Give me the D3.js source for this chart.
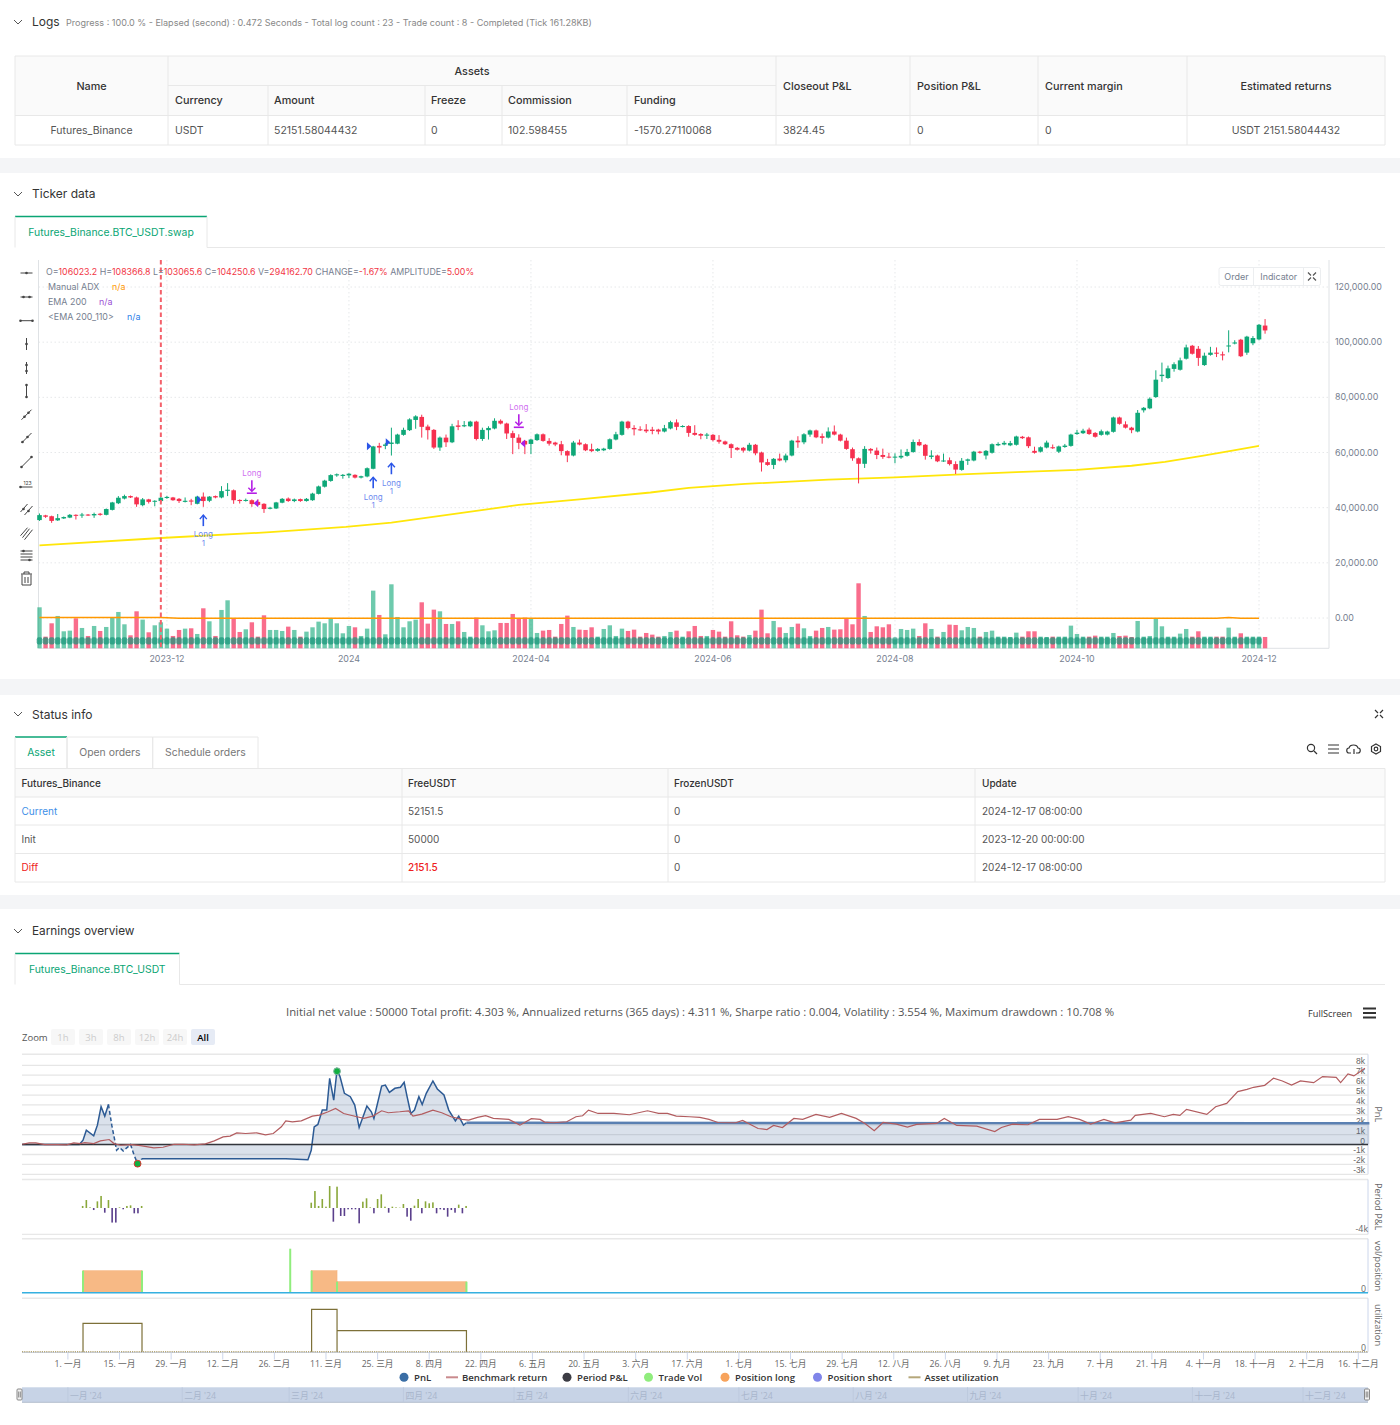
<!DOCTYPE html>
<html>
<head>
<meta charset="utf-8">
<title>Backtest</title>
<script src="https://d3js.org/d3.v7.min.js"></script>
<style>
    html, body { margin: 0; padding: 0; background: #fff; }
    svg { display: block; font-family: Inter, "Noto Sans CJK SC", sans-serif; }
    .hc text { font-family: "Open Sans", "Noto Sans CJK SC", sans-serif; }
    .hc text.pl { font-family: "Liberation Sans", sans-serif; }
</style>
</head>
<body>
<svg id="page" width="1400" height="1425"></svg>
<script>
// candles, prices in thousands USDT
var opens = [35.5,37.2,36.9,35.4,36.1,36.4,37.4,37.2,37.5,37.2,
    37.8,37.4,39.2,41.6,43.3,44.2,43.7,40.9,43,42.2,
    42.4,43.5,43.7,43.2,42.1,42.6,41.4,44,42.5,44.2,
    43.7,46.1,46.3,42.8,42.5,42.7,42.1,41.4,39.6,39.7,
    41.8,43.3,42.4,43.1,42.4,42.7,45,47.6,49.7,51.7,
    51.5,51.7,51.9,50.9,51.3,54.1,62.4,62.4,63.1,63.2,
    66.4,68.1,71.8,72.9,69.4,68.2,61.8,65.4,63.7,69.8,
    69.5,69.5,71.2,64.9,68.1,68.7,71.5,70.5,67,65.4,
    64.2,63.1,64.5,66.6,64.2,63.6,63,60.5,58.9,63.6,
    63,61.2,60.6,60.8,61.3,64.7,66.4,71.2,68.9,68.4,
    68.3,68.3,68.3,67.6,68.7,70.9,69.3,69.6,67.1,66.7,
    66.1,66.4,64.6,64,63,61.7,61.7,60.7,62.8,60,
    56.5,55.5,57.8,57.2,58.9,64.3,63.7,66.5,68,65.9,
    65.4,67.6,66.5,64.3,61.2,57.9,55.9,61.3,60.7,59.1,
    58.5,58.2,58.2,58.8,60.2,63.8,62.8,58.4,58.9,56.8,
    57.2,55.8,53.7,57,57.1,60.3,58.9,59.9,62.6,62.9,
    62.6,62.8,65.7,65.5,60.6,60.3,61.8,61.9,60.3,62,
    62.4,66.7,67,68.3,67.1,66.4,66.5,67.5,72.7,70.2,
    69,67.6,75.3,76,80.1,87.7,87,90.3,90,94,
    98.7,97.6,91.7,95.4,96.2,95.6,98.5,99.5,100.9,96.2,
    99.6,101,106.02];
var closes = [37.3,36.7,35.2,36.2,36.6,37.4,37.1,37.5,37.2,37.7,
    37.4,39.5,41.9,43.6,44.2,43.7,41.2,43,42.1,42.5,
    43.6,43.9,42.7,42.4,42.5,42.2,44,42.4,44,43.7,
    46,46.5,42.7,42.4,42.8,41.3,41,39.5,40,41.9,
    43.2,42.4,43,42.4,43.2,45.1,47.7,49.8,51.8,52.1,
    51.9,52.3,50.9,51.4,54.3,62.2,61.8,62.9,63.6,66.5,
    68.2,72,73.1,69.3,68.1,61.8,65.4,63.7,69.5,69.3,
    69.9,71.2,64.9,68.2,68.9,71.5,70.5,66.9,65.3,63.5,
    62.9,64.7,66.6,64.2,63.2,62.9,60.5,58.9,63.6,62.9,
    60.8,60.5,61.3,61.4,64.8,66.6,71.2,68.9,68.4,68.1,
    67.7,67.8,67.6,68.8,71,69.3,69.6,67.1,66.4,66.1,
    66.5,64.5,63.9,63,61.6,61,60.7,62.8,59.7,56.4,
    55.5,57.7,57.1,58.9,64.3,63.7,66.6,68,65.5,65.3,
    67.6,66.5,64.3,61.3,57.9,55.9,61.3,60.7,59.1,58.4,
    58.2,58.5,58.8,60.2,63.8,62.6,58.8,58.9,56.8,57.1,
    55.8,53.8,57,57.5,60.3,59.9,60.6,63,63.1,63.5,
    63.4,65.8,65.2,62.3,59.9,61.9,63.6,61.6,62.2,62.5,
    66.5,67.2,67.9,66.7,65.7,67.7,67.6,72.7,70.4,69,
    68.1,74.4,76.2,79.5,86.4,88.2,90.5,92,93.4,98.1,
    95.8,94.3,95.1,96.2,95.8,95.2,98.8,99.9,94.9,102,
    101.5,106.3,104.25];
var highs = [37.9,37.4,37.1,37.7,36.8,37.7,37.6,38.1,37.7,38.2,
    38.1,39.7,42.1,44.2,44.7,44.4,44,43.5,43.2,42.7,
    44.1,44.3,43.9,43.5,43.7,43.2,44.3,45.5,44.2,44.4,
    47.8,48.9,46.6,43,43.3,43,43,41.6,40.3,42.1,
    43.5,43.7,43.3,43.3,43.5,45.4,48,50.1,52.1,52.4,
    52.2,52.5,52.1,51.6,54.6,62.4,63.5,63.5,69,66.8,
    69,72.4,73.5,73.7,70.1,68.5,65.8,66.5,70.4,71.7,
    71.4,71.5,71.5,69,69.5,72.4,72,70.8,67.9,66.6,
    64.5,65,66.9,66.9,65.2,63.9,64.2,60.8,64.2,64.7,
    63.3,63.2,61.6,61.7,65.1,67.5,71.5,71.5,69.9,69.5,
    70.3,69.3,68.6,70,71.5,72,69.9,69.9,69.9,67,
    67.1,66.7,66.3,64.3,63.3,62,62,63.5,63.1,60.3,
    57.7,58,59.6,59.6,64.6,65.9,67,68.3,68.3,66.9,
    69.1,69.8,66.8,65.4,61.8,58.2,62.3,61.6,61.8,61.4,
    59.9,59.7,61.1,61.3,64.7,64.8,63.1,60.8,59.2,59.6,
    58.2,56.8,58,57.8,60.6,60.6,60.9,63.3,63.7,64.2,
    64.2,66.1,66,65.8,62.1,62.2,64.3,62.9,62.5,63.1,
    66.8,68.2,68.6,69,67.4,68.3,67.9,73,73,71.3,
    69.3,75.4,76.5,80,89.8,92.6,91.5,92.7,94.4,99.1,
    99,98.6,96.2,98.3,98.1,96.6,104.3,100.7,101.2,102.3,
    102.2,106.6,108.37];
var lows = [35.2,36.3,34.5,35.2,35.9,36.2,35.7,36.3,37,36.3,
    37.1,37.2,39,41.3,43,43.5,40.3,40.5,41.5,40.5,
    41.9,43.2,42.5,41.7,41.9,40.9,41.2,40.3,42,43.4,
    43.4,44.2,41.4,41.5,42.2,40.3,40.6,38.1,39.4,39.5,
    41.6,42.1,42,42.1,42.2,42.5,44.8,47.3,49.4,51.2,
    50.5,50.7,50.6,50.6,51,53.9,59.7,61.2,58.9,63,
    66.1,67.8,68.6,65.4,64.7,61.3,60.6,62,63.4,68.1,
    69.2,69.2,64.4,64.2,64.7,68.4,70.2,64.9,59.4,61.2,
    59.4,59.4,64.2,63.9,62.5,62.3,59,56.5,58.6,62.6,
    60.5,60.2,60.3,60.5,61,64.4,66.1,68.4,66.2,67.8,
    67.1,66.6,66.6,67.3,68.4,68.1,69.1,65.7,66.1,64.8,
    64.9,64,63.2,62.7,58,60.7,60,60.4,59,53.1,
    55.2,54,56.8,56.4,58.6,61.7,63,65.7,65.2,63.2,
    65.1,66.2,64,61,57,48.8,54.4,59.6,57.6,57.7,
    57.9,56.1,57.7,58.5,59.9,62.3,57.4,57.6,56.5,56.6,
    55.3,52.2,53.4,55.5,56.8,59.6,57.5,59.6,62.3,62.6,
    62.3,62.5,64.9,61.6,59.6,60,61.5,61.3,59.8,61.7,
    62.1,66.4,66.7,66.4,65.4,66.1,66.2,67.2,70.1,68.7,
    67,67.3,74.5,75.7,79.8,85.6,86.7,89.3,89.7,93.7,
    95.5,91.4,91.4,95.1,94.6,93.4,96.3,99.2,94.6,95.4,
    98.9,100.7,103.07];
// volume, read as bar height (lots of about 8.65k, last bar = 294162.7)
var volumes = [123,35,75,97,51,53,90,61,37,67,52,64,92,109,72,39,111,86,48,69,78,59,37,55,59,60,43,120,81,37,115,144,89,49,57,78,35,99,55,55,52,65,55,35,50,63,80,75,89,75,
    45,67,63,37,59,173,100,42,192,94,63,81,86,138,74,116,111,73,73,81,49,35,92,69,51,54,76,76,103,90,92,88,46,53,55,35,73,98,64,56,55,63,35,58,69,37,59,52,56,35,
    46,41,35,37,49,53,35,51,67,37,37,55,50,35,81,39,35,40,53,116,45,82,63,46,64,74,60,37,53,61,64,56,57,89,72,195,97,49,66,63,72,27,58,55,59,37,75,58,35,49,71,
    70,54,64,61,35,49,53,35,35,34,47,35,51,51,35,34,35,35,35,68,43,35,35,38,35,35,46,37,38,34,82,35,37,88,66,35,35,44,58,35,51,35,35,35,35,62,35,45,35,35,35,34];
var emaIdx = [0,20,38,50.5,58,69,79,89,100.7,107,116.3,130,141,151,161,171,180,185.5,191.6,196.6,201];
var emaVals = [26.3,29,31.1,33,34.6,37.9,41,43,45.5,47.2,48.6,50.2,51,52,52.9,53.7,55.2,56.6,58.8,60.7,62.4];
var adxIdx = [0,20,23,194,196,198,201];
var adxVals = [0.15,0.15,-0.1,-0.1,0.2,-0.1,-0.1];
var priceTicks = [0,20,40,60,80,100,120];
var candleTickIdx = [21,51,81,111,141,171,201];
var candleTickLabels = ["2023-12","2024","2024-04","2024-06","2024-08","2024-10","2024-12"];
// arrows on the chart: [bar, price]
var longIn = [[27,37.3],[55,51],[58,56.1]];
var longOut = [[35,45.6],[79,69.5]];
var triIn = [[26.3,42.9],[54.3,62.3],[57.4,63.7]];
var triOut = [[35.7,41.6],[79.7,63.3]];

// earnings, x in days after 2024-01-01, y in thousands
var pnlDays = [-12.4,-0.3,3.1,4.1,5,7,8,9,10,11,11.9,12.7,13.2,14,15,17,17.9,18.9,20.1,59.1,65.1,66,66.8,67.8,69,70.2,71,72.1,73,73.8,75,76.6,77.8,79,81.1,82.3,83,85.1,86.1,87.2,88.7,90.2,91.2,92,93,94,95.2,96.1,97.2,99,100.2,102,103.3,105.1,106,107.3,108.1,353];
var pnlVals = [0,0,0,0.44,1.45,0.88,1.96,3.82,2.87,4.05,1.96,0.44,-0.57,-0.3,-0.64,0,-1.01,-1.93,-1.42,-1.42,-1.52,-0.57,1.79,2.03,3.48,3.48,6.69,4.49,7.53,6.86,5.17,4.83,3.99,1.72,3.89,3.31,2.64,5.91,6.01,5.27,5.68,5.78,6.28,4.83,3.14,3.48,4.83,4.05,5.17,6.42,5.61,5,3.48,2.4,2.87,1.96,2.2,2.15];
var benchDays = [-12.4,-10.5,-8.7,-6.3,-2.7,-0.3,1.6,3.4,4.6,7,8.8,11.2,12.5,14.3,17.3,19.7,23.3,25.8,28.8,31.2,34.3,37.3,39.7,42.1,44,45.8,48.2,51.2,53.6,55.7,57.9,59.1,60.9,63.3,66.3,68.2,70.6,72.6,74.8,78.4,80.3,82.7,85.1,86.9,90,92.4,93.6,96,99,101.4,103.9,106.9,108.7,111.1,113.3,115.4,119.6,122.6,125.7,128.1,129.3,131.7,135.3,137.8,139.6,141.2,143.8,148.1,152.3,157.2,160.2,162.6,165,168.6,
    171.4,173.9,176.3,181.1,183,187.2,189.6,191.4,193.8,196.9,199.3,202.9,206.6,209.8,213.8,216.2,218.7,221.1,224.7,227.7,230.2,235.6,237.7,241.1,246.5,251.4,253.2,256.2,260.4,263.5,268.3,271.3,274.4,277.4,281,284,288.3,289.5,293.7,297.4,299.8,301.6,303.4,308.9,311.3,314.3,317.3,319.8,321.6,324.6,327,329.4,331.9,334.3,337.9,340.3,344,345.2,347.2,348.8,351.8];
var benchVals = [0.03,0.17,0.17,0,0,-0.03,0.17,0.1,0.2,0.1,0.37,0.51,0.1,-0.07,0,-0.1,-0.34,-0.27,0.03,0.03,-0.03,0.07,0.37,0.78,0.85,1.18,1.12,1.18,0.98,1.12,1.79,2.4,2.3,2.4,2.87,2.97,3.31,3.65,3.14,2.81,2.64,2.87,3.41,3.21,3.31,3.41,2.87,3.07,3.48,3.21,2.81,2.54,2.47,2.74,2.91,2.64,2.54,1.96,2.61,2.54,2.27,2.2,2.3,2.81,2.91,3.48,3.14,3.14,3.01,3.41,3.14,3.14,2.87,2.81,
    2.74,2.54,2.23,2.2,2.44,1.62,1.52,1.93,1.72,2.64,2.54,3.04,2.74,3.14,2.64,2.13,1.39,2.23,2.06,1.76,2.03,2.13,2.64,1.93,1.86,1.32,1.72,2.06,2,2.54,2.54,2.81,2.54,2.06,2.54,2.2,2.47,2.94,3.14,2.81,3.04,2.94,3.55,3.04,3.82,4.16,5.34,5.57,5.78,5.98,6.69,6.42,6.01,6.42,6.25,6.86,6.79,6.25,7.13,6.93,7.7];
var pnlTicks = [-3,-2,-1,0,1,2,3,4,5,6,7,8];
var periodDays = d3.range(4,21).concat(d3.range(66,109));
var periodVals = [0.32,1.26,0.1,-0.32,1.05,1.9,-0.74,1.26,-2.3,-2.3,0.1,-0.2,0.32,0.42,-0.84,-0.84,0.32,
    0.84,2.68,0.32,1.42,0.21,3.47,-2.16,3.37,-1.26,-1.26,-0.21,-0.21,-0.21,-2.42,1,1.53,0.1,-0.84,1.42,2.16,0.21,-0.74,0.21,0.1,0.05,0.63,-1.37,-2,0.37,1.42,-0.84,1.05,0.74,0.89,-0.84,-0.21,-0.32,-1.37,-0.32,-0.74,0.53,-0.84,0.32];
// position steps: [from day, to day, level]
var posDays = [[4.1,20.1],[66.1,73],[73,108.1]];
var posLevels = [2,2,1];
var tradeDays = [4.1,20.1,60.3,66.1,73,108.1];
var tradeVols = [2,2,4,2,1,1];
var utilLevels = [28.3,42.3,21];
var monthNames = ["一月","二月","三月","四月","五月","六月","七月","八月","九月","十月","十一月","十二月"];

var svg = d3.select("#page");

function t(parent, x, y, str, o) {
    o = o || {};
    return parent.append("text").attr("x", x).attr("y", y).attr("dy", "0.35em")
        .attr("font-size", o.size || 10.5)
        .attr("font-weight", o.weight || 400)
        .attr("fill", o.fill || "#555")
        .attr("text-anchor", o.anchor || "start")
        .text(str);
}
function line(parent, x1, y1, x2, y2, c, w) {
    return parent.append("line").attr("x1", x1).attr("y1", y1).attr("x2", x2).attr("y2", y2)
        .attr("stroke", c || "#e8e8e8").attr("stroke-width", w || 1);
}
function box(parent, x, y, w, h, c) {
    return parent.append("rect").attr("x", x).attr("y", y).attr("width", w).attr("height", h).attr("fill", c);
}
function chevron(x, y) {
    svg.append("path").attr("d", "M" + (x - 4) + "," + (y - 2) + "L" + x + "," + (y + 2) + "L" + (x + 4) + "," + (y - 2))
        .attr("fill", "none").attr("stroke", "#555").attr("stroke-width", 1);
}
function tabs(y, h, list) {
    list.forEach(function (d, i) {
        line(svg, d.x0, y, d.x1, y, i == 0 ? "#0aa574" : "#e8e8e8", i == 0 ? 1.5 : 1);
        line(svg, d.x0, y, d.x0, y + h);
        line(svg, d.x1, y, d.x1, y + h);
        t(svg, (d.x0 + d.x1) / 2, y + h / 2, d.label, {anchor: "middle", fill: i == 0 ? "#0aa574" : "#777", size: 10.4});
    });
}

// gray bands between the sections
[[158, 15], [679, 16], [895, 14]].forEach(function (d) { box(svg, 0, d[0], 1400, d[1], "#f4f5f7"); });

// ---- Logs ----
chevron(18, 22);
t(svg, 32, 21.5, "Logs", {size: 12, fill: "#333"});
t(svg, 66, 22.5, "Progress : 100.0 % - Elapsed (second) : 0.472  Seconds - Total log count : 23 - Trade count : 8 - Completed (Tick 161.28KB)", {size: 9.05, fill: "#888"});

box(svg, 15, 56, 1370, 60, "#fafafa");
[56, 115.5, 145].forEach(function (y) { line(svg, 15, y, 1385, y); });
line(svg, 168, 85.5, 776, 85.5);
[15, 168, 776, 910, 1038, 1187, 1385].forEach(function (x) { line(svg, x, 56, x, 145); });
[268, 425, 502, 627].forEach(function (x) { line(svg, x, 85.5, x, 145); });
var headStyle = {weight: 500, fill: "#333", size: 10.8};
t(svg, 91.5, 86, "Name", {weight: 500, fill: "#333", size: 10.8, anchor: "middle"});
t(svg, 472, 71, "Assets", {weight: 500, fill: "#333", size: 10.8, anchor: "middle"});
t(svg, 1286, 86, "Estimated returns", {weight: 500, fill: "#333", size: 10.8, anchor: "middle"});
[["Currency", 175], ["Amount", 274], ["Freeze", 431], ["Commission", 508], ["Funding", 634]].forEach(function (d) { t(svg, d[1], 100.7, d[0], headStyle); });
[["Closeout P&L", 783], ["Position P&L", 917], ["Current margin", 1045]].forEach(function (d) { t(svg, d[1], 86, d[0], headStyle); });
t(svg, 91.5, 130.5, "Futures_Binance", {anchor: "middle"});
[["USDT", 175], ["52151.58044432", 274], ["0", 431], ["102.598455", 508], ["-1570.27110068", 634], ["3824.45", 783], ["0", 917], ["0", 1045]].forEach(function (d) { t(svg, d[1], 130.5, d[0]); });
t(svg, 1286, 130.5, "USDT 2151.58044432", {anchor: "middle"});

// ---- Ticker data ----
chevron(18, 194);
t(svg, 32, 194, "Ticker data", {size: 12, fill: "#333"});
tabs(216.5, 31, [{x0: 15, x1: 207, label: "Futures_Binance.BTC_USDT.swap"}]);
line(svg, 207, 247.5, 1385, 247.5);

var chart = svg.append("g");
var x = d3.scaleLinear().domain([0, 201]).range([39.5, 1259]);
var y = d3.scaleLinear().domain([0, 120]).range([618, 287]);
var yVol = d3.scaleLinear().domain([0, 240]).range([648.3, 568.3]);
var plotL = 38.5, plotR = 1329, plotT = 260, plotB = 648.3;

chart.selectAll(".gy").data(priceTicks).enter().append("line")
    .attr("x1", plotL).attr("x2", plotR).attr("y1", function (d) { return y(d); }).attr("y2", function (d) { return y(d); })
    .attr("stroke", "#e6e8ea").attr("stroke-dasharray", "1.5 2.5");
chart.selectAll(".gx").data(candleTickIdx).enter().append("line")
    .attr("y1", plotT).attr("y2", plotB).attr("x1", function (d) { return x(d); }).attr("x2", function (d) { return x(d); })
    .attr("stroke", "#e6e8ea").attr("stroke-dasharray", "1.5 2.5");
line(chart, plotL, plotT, plotL, plotB, "#dfe2e5");
line(chart, plotR, plotT, plotR, plotB, "#dfe2e5");
line(chart, plotL, plotB, plotR, plotB, "#dfe2e5");

chart.selectAll(".py").data(priceTicks).enter().append("text")
    .attr("x", 1335).attr("y", function (d) { return y(d); }).attr("dy", "0.35em")
    .attr("font-size", 8.9).attr("fill", "#76808f")
    .text(function (d) { return d3.format(",.2f")(d * 1000); });
chart.selectAll(".px").data(candleTickIdx).enter().append("text")
    .attr("x", function (d) { return x(d); }).attr("y", 658.5).attr("dy", "0.35em")
    .attr("font-size", 8.9).attr("fill", "#76808f").attr("text-anchor", "middle")
    .text(function (d, i) { return candleTickLabels[i]; });

var idx = d3.range(opens.length);
function isUp(i) { return closes[i] >= opens[i]; }

// volume bars
chart.selectAll(".vol").data(idx).enter().append("rect")
    .attr("x", function (i) { return x(i) - 2.2; }).attr("width", 4.4)
    .attr("y", function (i) { return yVol(volumes[i]); })
    .attr("height", function (i) { return yVol(0) - yVol(volumes[i]); })
    .attr("fill", function (i) { return isUp(i) ? "rgba(14,166,118,0.6)" : "rgba(246,40,85,0.68)"; });
// low teal band over the volume bars
var bandTop = -6.95, bandBottom = -9.6;
chart.selectAll(".band").data(idx.slice(0, 202)).enter().append("rect")
    .attr("x", function (i) { return x(i) - 2.8; }).attr("width", 5.6).attr("rx", 2)
    .attr("y", y(bandTop)).attr("height", y(bandBottom) - y(bandTop))
    .attr("fill", "rgba(25,150,122,0.72)");

// ADX and EMA
var adxLine = d3.line().x(function (d, i) { return x(adxIdx[i]); }).y(function (d) { return y(d); });
chart.append("path").datum(adxVals).attr("d", adxLine).attr("fill", "none").attr("stroke", "#ff9800").attr("stroke-width", 1.5);
var emaLine = d3.line().x(function (d, i) { return x(emaIdx[i]); }).y(function (d) { return y(d); });
chart.append("path").datum(emaVals).attr("d", emaLine).attr("fill", "none").attr("stroke", "#ffe60a").attr("stroke-width", 1.8);

// candles
chart.selectAll(".wick").data(idx).enter().append("line")
    .attr("x1", function (i) { return x(i); }).attr("x2", function (i) { return x(i); })
    .attr("y1", function (i) { return y(highs[i]); }).attr("y2", function (i) { return y(lows[i]); })
    .attr("stroke", function (i) { return isUp(i) ? "#0fa878" : "#f6304f"; });
chart.selectAll(".body").data(idx).enter().append("rect")
    .attr("x", function (i) { return x(i) - 2.3; }).attr("width", 4.6)
    .attr("y", function (i) { return y(Math.max(opens[i], closes[i])); })
    .attr("height", function (i) { return Math.max(1, Math.abs(y(opens[i]) - y(closes[i]))); })
    .attr("fill", function (i) { return isUp(i) ? "#0fa878" : "#f6304f"; });

// red dashed cursor
line(chart, x(20), plotT, x(20), plotB, "#f4606a", 2).attr("stroke-dasharray", "4.5 3");

// trade markers
longIn.forEach(function (d) {
    var px = x(d[0]), py = y(d[1]);
    line(chart, px, py, px, py + 11, "#2a55e8", 1.6);
    chart.append("path").attr("d", "M" + (px - 3.5) + "," + (py + 4) + "L" + px + "," + py + "L" + (px + 3.5) + "," + (py + 4)).attr("fill", "none").attr("stroke", "#2a55e8").attr("stroke-width", 1.4);
    t(chart, px, py + 19.5, "Long", {anchor: "middle", size: 8, fill: "#6d8bef"});
    t(chart, px, py + 28, "1", {anchor: "middle", size: 8, fill: "#6d8bef"});
});
longOut.forEach(function (d) {
    var px = x(d[0]), py = y(d[1]);
    line(chart, px, py - 12, px, py - 1, "#b51fe6", 1.6);
    chart.append("path").attr("d", "M" + (px - 3.5) + "," + (py - 4.5) + "L" + px + "," + (py - 1) + "L" + (px + 3.5) + "," + (py - 4.5)).attr("fill", "none").attr("stroke", "#b51fe6").attr("stroke-width", 1.4);
    line(chart, px - 5, py + 1, px + 5, py + 1, "#b51fe6", 1.6);
    t(chart, px, py - 19, "Long", {anchor: "middle", size: 8, fill: "#d070f0"});
});
chart.selectAll(".tin").data(triIn).enter().append("path")
    .attr("d", function (d) { var a = x(d[0]) - 2, b = y(d[1]); return "M" + a + "," + (b - 4) + "L" + (a + 4.5) + "," + b + "L" + a + "," + (b + 4) + "Z"; })
    .attr("fill", "#2a55e8");
chart.selectAll(".tout").data(triOut).enter().append("path")
    .attr("d", function (d) { var a = x(d[0]) + 2, b = y(d[1]); return "M" + a + "," + (b - 4) + "L" + (a - 4.5) + "," + b + "L" + a + "," + (b + 4) + "Z"; })
    .attr("fill", "#a61fe8");

// header text of the chart
var ohlc = chart.append("text").attr("x", 46).attr("y", 272).attr("dy", "0.35em").attr("font-size", 8.8);
[["O=", "106023.2"], [" H=", "108366.8"], [" L=", "103065.6"], [" C=", "104250.6"], [" V=", "294162.70"], [" CHANGE=", "-1.67%"], [" AMPLITUDE=", "5.00%"]].forEach(function (d) {
    ohlc.append("tspan").attr("fill", "#76808f").text(d[0]);
    ohlc.append("tspan").attr("fill", "#f23645").text(d[1]);
});
[["Manual ADX", 287, 112, "#ff9800"], ["EMA 200", 302, 99, "#9b4fd4"], ["<EMA 200_110>", 317, 127, "#2a7de8"]].forEach(function (d) {
    t(chart, 48, d[1], d[0], {size: 8.9, fill: "#76808f"});
    t(chart, d[2], d[1], "n/a", {size: 8.9, fill: d[3]});
});
chart.append("rect").attr("x", 1219).attr("y", 267.5).attr("width", 101.5).attr("height", 18).attr("rx", 2).attr("fill", "#fff").attr("stroke", "#eceef0");
line(chart, 1253.5, 267.5, 1253.5, 285.5, "#eceef0");
line(chart, 1303.5, 267.5, 1303.5, 285.5, "#eceef0");
t(chart, 1236.5, 276.5, "Order", {anchor: "middle", size: 9, fill: "#76808f"});
t(chart, 1278.7, 276.5, "Indicator", {anchor: "middle", size: 8.9, fill: "#76808f"});
function expandIcon(cx, cy, c) {
    svg.append("path").attr("d", "M" + (cx - 4) + "," + (cy - 4) + "l3,3M" + (cx + 4) + "," + (cy - 4) + "l-3,3M" + (cx - 4) + "," + (cy + 4) + "l3,-3M" + (cx + 4) + "," + (cy + 4) + "l-3,-3")
        .attr("stroke", c).attr("stroke-width", 1.2).attr("fill", "none");
}
expandIcon(1312, 276.5, "#555");

// left drawing toolbar
var toolY = [273, 297, 320.7, 344, 368, 391, 414.7, 438, 462, 485, 509, 532.7, 556];
var tools = svg.append("g").attr("stroke", "#444").attr("stroke-width", 1).attr("fill", "#444");
toolY.forEach(function (ty, i) {
    var cx = 26.5, g = tools.append("g").attr("transform", "translate(" + cx + "," + ty + ")");
    function seg(x1, y1, x2, y2) { g.append("line").attr("x1", x1).attr("y1", y1).attr("x2", x2).attr("y2", y2); }
    function dot(a, b) { g.append("circle").attr("cx", a).attr("cy", b).attr("r", 1.3).attr("stroke", "none"); }
    if (i < 3) { seg(-6, 0, 6, 0); if (i == 0) dot(0, 0); if (i == 1) { dot(-3, 0); dot(3, 0); } if (i == 2) { dot(-6, 0); dot(6, 0); } }
    else if (i < 6) { seg(0, -6, 0, 6); if (i == 3) dot(0, 0); if (i == 4) { dot(0, -3); dot(0, 3); } if (i == 5) { dot(0, -6); dot(0, 6); } }
    else if (i < 9) { seg(-5, 5, 5, -5); if (i == 6) { dot(-2, 2); dot(2, -2); } if (i == 7) { dot(-4, 4); dot(1, -1); } if (i == 8) { dot(-5, 5); dot(5, -5); } }
    else if (i == 9) { seg(-6, 2, 6, 2); dot(-6, 2); g.append("text").attr("x", 1).attr("y", 0).attr("font-size", 5).attr("stroke", "none").attr("text-anchor", "middle").text("123"); }
    else if (i == 10) { seg(-6, 3, 1, -5); seg(-2, 6, 6, -3); dot(-3, 0); dot(2, 2); }
    else if (i == 11) { seg(-6, 3, 1, -5); seg(-4, 5, 3, -4); seg(-2, 7, 6, -3); }
    else { seg(-6, -5, 6, -5); seg(-6, -2, 6, -2); seg(-6, 1, 6, 1); seg(-6, 4, 6, 4); dot(-3, -5); dot(3, 4); }
});
tools.append("path").attr("fill", "none").attr("d", "M21,574H32M24,574V572H29V574M22,574.5V585H31V574.5M25,577V583M28,577V583");

// ---- Status info ----
chevron(18, 714);
t(svg, 32, 715, "Status info", {size: 12, fill: "#333"});
expandIcon(1379, 714, "#333");
tabs(737, 31.5, [{x0: 15, x1: 67, label: "Asset"}, {x0: 67, x1: 152.7, label: "Open orders"}, {x0: 152.7, x1: 258, label: "Schedule orders"}]);
box(svg, 15, 768.5, 1370, 28.5, "#fafafa");
[768.5, 797, 825, 853.5, 882].forEach(function (yy) { line(svg, 15, yy, 1385, yy); });
[15, 402, 668, 975, 1385].forEach(function (xx) { line(svg, xx, 768.5, xx, 882); });
var statusCols = [21.5, 408, 674, 982];
var statusRows = [
    [783, ["Futures_Binance", "FreeUSDT", "FrozenUSDT", "Update"], {weight: 500, fill: "#333"}],
    [811.5, ["Current", "52151.5", "0", "2024-12-17 08:00:00"], {}],
    [839.5, ["Init", "50000", "0", "2023-12-20 00:00:00"], {}],
    [867.5, ["Diff", "2151.5", "0", "2024-12-17 08:00:00"], {}]
];
statusRows.forEach(function (r) {
    r[1].forEach(function (s, i) {
        var fill = r[2].fill || "#555";
        if (s == "Current") fill = "#3d8fe8";
        if (s == "Diff" || s == "2151.5") fill = "#ee2020";
        t(svg, statusCols[i], r[0], s, {size: 10, weight: r[2].weight || (s == "2151.5" ? 500 : 400), fill: fill});
    });
});
// small icons right of the tabs
var ic = svg.append("g").attr("fill", "none").attr("stroke", "#333").attr("stroke-width", 1.2);
ic.append("circle").attr("cx", 1311).attr("cy", 748).attr("r", 3.6);
ic.append("path").attr("d", "M1314,751L1317,754");
ic.append("path").attr("d", "M1328,745H1339M1328,749H1339M1328,753H1339");
ic.append("path").attr("d", "M1351,753H1349C1346,753 1346,748 1349,748C1350,744 1357,744 1358,748C1361,748 1361,753 1358,753H1356M1354,749V754");
ic.append("circle").attr("cx", 1376).attr("cy", 749).attr("r", 1.8);
ic.append("path").attr("d", "M1376,744L1380.5,746.5V751.5L1376,754L1371.5,751.5V746.5Z");

// ---- Earnings overview ----
chevron(18, 931);
t(svg, 32, 931, "Earnings overview", {size: 11.8, fill: "#333"});
tabs(953.5, 31, [{x0: 15, x1: 179.5, label: "Futures_Binance.BTC_USDT"}]);
line(svg, 179.5, 984.5, 1385, 984.5);

var hc = svg.append("g").attr("class", "hc");
t(hc, 700, 1012.3, "Initial net value : 50000 Total profit: 4.303 %, Annualized returns (365 days) : 4.311 %, Sharpe ratio : 0.004, Volatility : 3.554 %, Maximum drawdown : 10.708 %", {anchor: "middle", size: 11.35, fill: "#555"});
t(hc, 1308, 1014, "FullScreen", {size: 9.2, fill: "#333"});
hc.append("path").attr("d", "M1363,1008.5H1376M1363,1013H1376M1363,1017.5H1376").attr("stroke", "#333").attr("stroke-width", 2);
t(hc, 22, 1037.5, "Zoom", {size: 9.5, fill: "#555"});
["1h", "3h", "8h", "12h", "24h", "All"].forEach(function (s, i) {
    var bx = 51 + i * 28;
    hc.append("rect").attr("x", bx).attr("y", 1029).attr("width", 24).attr("height", 16).attr("rx", 2).attr("fill", i == 5 ? "#e6ebf5" : "#f7f7f7");
    t(hc, bx + 12, 1037.5, s, {anchor: "middle", size: 9.5, fill: i == 5 ? "#000" : "#cccccc", weight: i == 5 ? 600 : 400});
});

var jan1 = Date.UTC(2024, 0, 1), dayMs = 86400000;
var tx = d3.scaleLinear().domain([0, 336]).range([67.9, 1306.7]);
var L = 22, R = 1368;

// panel frames
[[1054.3, 1174.3], [1179.5, 1234.3], [1238.7, 1292.7], [1298.3, 1351.7]].forEach(function (p) {
    line(hc, L, p[0], R, p[0], "#e8e8e8", 1.5);
    line(hc, R, p[0], R, p[1], "#ccd6eb", 1);
});
line(hc, L, 1234.3, R, 1234.3, "#e8e8e8", 1.2);
// PnL panel
var yP = d3.scaleLinear().domain([-3, 8]).range([1174.3, 1065.3]);
hc.selectAll(".pg").data(pnlTicks).enter().append("line")
    .attr("x1", L).attr("x2", R).attr("y1", function (d) { return yP(d); }).attr("y2", function (d) { return yP(d); })
    .attr("stroke", "#e6e6e6").attr("stroke-width", 1.3);
hc.selectAll(".pl").data(pnlTicks).enter().append("text").attr("class", "pl")
    .attr("x", 1365).attr("y", function (d) { return yP(d) - 4; }).attr("dy", "0.35em")
    .attr("text-anchor", "end").attr("font-size", 8.5).attr("fill", "#666")
    .text(function (d) { return d == 0 ? "0" : d + "k"; });

var area = d3.area().x(function (d) { return tx(d[0]); }).y0(yP(0)).y1(function (d) { return yP(d[1]); });
var pnlLine = d3.line().x(function (d) { return tx(d[0]); }).y(function (d) { return yP(d[1]); });
var pnlPts = pnlDays.map(function (d, i) { return [d, pnlVals[i]]; });
hc.append("path").datum(pnlPts).attr("d", area).attr("fill", "rgba(70,105,155,0.2)");
function pnlPart(from, to, w, c, dash) {
    var part = pnlPts.filter(function (d) { return d[0] >= from && d[0] <= to; });
    var p = hc.append("path").datum(part).attr("d", pnlLine).attr("fill", "none").attr("stroke", c).attr("stroke-width", w);
    if (dash) p.attr("stroke-dasharray", dash);
}
pnlPart(-13, 11, 1.5, "#2c5a94");
pnlPart(11, 20.1, 1.5, "#2c5a94", "4 2.5");
pnlPart(20.1, 108.1, 1.5, "#2c5a94");
pnlPart(108.1, 354, 2.4, "#5a80b2");
line(hc, L, yP(0), R, yP(0), "#33363c", 1.5);
var benchPts = benchDays.map(function (d, i) { return [d, benchVals[i]]; });
hc.append("path").datum(benchPts).attr("d", pnlLine).attr("fill", "none").attr("stroke", "#b25c5f").attr("stroke-width", 1.2);
hc.append("circle").attr("cx", tx(73)).attr("cy", yP(7.4)).attr("r", 3.4).attr("fill", "#10b040").attr("stroke", "#7fb5a0");
hc.append("circle").attr("cx", tx(18.9)).attr("cy", yP(-1.93)).attr("r", 3.4).attr("fill", "#10b040").attr("stroke", "#e03030");

// period P&L bars
var yQ = d3.scaleLinear().domain([0, 1]).range([1208, 1201.67]);
hc.selectAll(".per").data(periodVals).enter().append("rect")
    .attr("x", function (d, i) { return tx(periodDays[i]) - 0.8; }).attr("width", 1.6)
    .attr("y", function (d) { return Math.min(yQ(d), yQ(0)); })
    .attr("height", function (d) { return Math.abs(yQ(d) - yQ(0)); })
    .attr("fill", function (d) { return d >= 0 ? "#8aa83a" : "#5a3f8c"; });
t(hc, 1368, 1229.3, "-4k", {anchor: "end", size: 8.8, fill: "#666"});

// vol/position
var yV = d3.scaleLinear().domain([0, 1]).range([1292.7, 1281.7]);
posDays.forEach(function (d, i) {
    hc.append("rect").attr("x", tx(d[0])).attr("width", tx(d[1]) - tx(d[0]))
        .attr("y", yV(posLevels[i])).attr("height", yV(0) - yV(posLevels[i]))
        .attr("fill", "#f7b985").attr("stroke", "#f5ad75").attr("stroke-width", 0.5);
});
hc.selectAll(".tv").data(tradeVols).enter().append("rect")
    .attr("x", function (d, i) { return tx(tradeDays[i]) - 1; }).attr("width", 2)
    .attr("y", function (d) { return yV(d); }).attr("height", function (d) { return yV(0) - yV(d); })
    .attr("fill", "#90ed7d");
line(hc, L, yV(0), R, yV(0), "#35b0e0", 1.5);
t(hc, 1366, 1288.7, "0", {anchor: "end", size: 8.8, fill: "#666"});

// utilization
var yU = d3.scaleLinear().domain([0, 60]).range([1351.7, 1291.7]);
var utilPath = d3.path();
posDays.forEach(function (d, i) {
    utilPath.moveTo(tx(d[0]), yU(0));
    utilPath.lineTo(tx(d[0]), yU(utilLevels[i]));
    utilPath.lineTo(tx(d[1]), yU(utilLevels[i]));
    utilPath.lineTo(tx(d[1]), yU(0));
});
line(hc, L, 1352.5, R, 1352.5, "#ccd6eb", 1);
line(hc, L, yU(0), R, yU(0), "#b5a77a", 1.5).attr("stroke-dasharray", "1.2 1");
hc.append("path").attr("d", utilPath.toString()).attr("fill", "none").attr("stroke", "#7d7038").attr("stroke-width", 1.2);
t(hc, 1366, 1347.7, "0", {anchor: "end", size: 8.8, fill: "#666"});

// date axis
var dateTicks = d3.range(0, 26).map(function (i) { return i * 14; });
hc.selectAll(".dt").data(dateTicks).enter().append("line")
    .attr("x1", function (d) { return tx(d); }).attr("x2", function (d) { return tx(d); })
    .attr("y1", 1352.5).attr("y2", 1359.5).attr("stroke", "#ccd6eb");
hc.selectAll(".dl").data(dateTicks).enter().append("text")
    .attr("x", function (d) { return tx(d); }).attr("y", 1363.7).attr("dy", "0.35em")
    .attr("text-anchor", "middle").attr("font-size", 8.7).attr("fill", "#666")
    .text(function (d) { var dd = new Date(jan1 + d * dayMs); return dd.getUTCDate() + ". " + monthNames[dd.getUTCMonth()]; });

// right axis titles
[["PnL", 1114.3], ["Period P&L", 1206.7], ["vol/position", 1266], ["utilization", 1325]].forEach(function (d) {
    hc.append("text").attr("transform", "translate(1378," + d[1] + ") rotate(90)").attr("dy", "0.35em")
        .attr("text-anchor", "middle").attr("font-size", 9.2).attr("fill", "#666").text(d[0]);
});

// legend
var legend = [
    {x: 404, s: "PnL", c: "#3a6ea5", k: "dot"},
    {x: 452, s: "Benchmark return", c: "#c98a8d", k: "bar"},
    {x: 567, s: "Period P&L", c: "#3c3c44", k: "dot"},
    {x: 648.5, s: "Trade Vol", c: "#90ed7d", k: "dot"},
    {x: 725, s: "Position long", c: "#f7a35c", k: "dot"},
    {x: 817.5, s: "Position short", c: "#8085e9", k: "dot"},
    {x: 914.5, s: "Asset utilization", c: "#b5a77a", k: "bar"}
];
legend.forEach(function (d) {
    if (d.k == "dot") {
        hc.append("circle").attr("cx", d.x).attr("cy", 1377.3).attr("r", 4.5).attr("fill", d.c);
    } else {
        line(hc, d.x - 6, 1377.3, d.x + 6, 1377.3, d.c, 2);
    }
    t(hc, d.x + 10, 1377.3, d.s, {size: 9.6, fill: "#333", weight: 600});
});

// navigator
box(hc, L, 1387.3, R - L, 15, "#c7d3e6");
line(hc, L, 1402.3, R, 1402.3, "#b5bfce", 1);
d3.range(0, 12).forEach(function (m) {
    var mx = tx((Date.UTC(2024, m, 1) - jan1) / dayMs);
    line(hc, mx, 1387.3, mx, 1402.3, "#bdcade", 1);
    t(hc, mx + 2, 1396, monthNames[m] + " '24", {size: 8.8, fill: "#a9b6cc"});
});
[19.5, 1367].forEach(function (hx) {
    hc.append("rect").attr("x", hx - 2.5).attr("y", 1389).attr("width", 5).attr("height", 11).attr("rx", 1).attr("fill", "#f2f2f2").attr("stroke", "#888");
    line(hc, hx - 0.8, 1391.5, hx - 0.8, 1397.5, "#888");
    line(hc, hx + 0.8, 1391.5, hx + 0.8, 1397.5, "#888");
});
</script>
</body>
</html>
